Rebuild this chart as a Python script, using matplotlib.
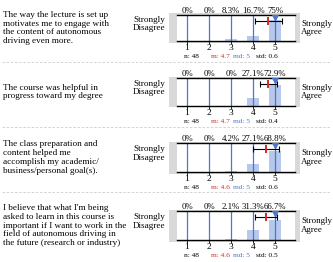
import numpy as np
import matplotlib
matplotlib.use("Agg")
import matplotlib.pyplot as plt
from matplotlib.patches import Rectangle
from matplotlib.lines import Line2D

plt.rcParams['font.family'] = ['Liberation Serif', 'DejaVu Serif']

## survey data
questions = [
    "The way the lecture is set up\nmotivates me to engage with\nthe content of autonomous\ndriving even more.",
    "The course was helpful in\nprogress toward my degree",
    "The class preparation and\ncontent helped me\naccomplish my academic/\nbusiness/personal goal(s).",
    "I believe that what I'm being\nasked to learn in this course is\nimportant if I want to work in the\nfield of autonomous driving in\nthe future (research or industry)",
]
categories = [1, 2, 3, 4, 5]
pct_q1 = [0, 0, 8.3, 16.7, 75]
pct_q2 = [0, 0, 0, 27.1, 72.9]
pct_q3 = [0, 0, 4.2, 27.1, 68.8]
pct_q4 = [0, 0, 2.1, 31.3, 66.7]
percents = [pct_q1, pct_q2, pct_q3, pct_q4]
pct_labels = [
    ["0%", "0%", "8.3%", "16.7%", "75%"],
    ["0%", "0%", "0%", "27.1%", "72.9%"],
    ["0%", "0%", "4.2%", "27.1%", "68.8%"],
    ["0%", "0%", "2.1%", "31.3%", "66.7%"],
]
n_resp = [48, 48, 48, 48]
means = [4.7, 4.7, 4.6, 4.6]
medians = [5, 5, 5, 5]
stds = [0.6, 0.4, 0.6, 0.5]

W, H = 333, 262
blue = '#4a78d0'
red = '#d62728'

fig = plt.figure(figsize=(W / 100, H / 100), dpi=100)

def fx(x):
    return x / W

def fy(y):
    return 1 - y / H

# pixel layout of each row (top / bottom of the plot area)
row_top = [15, 78, 143, 211]
row_bot = [41, 106, 172, 240]
ax_left, ax_right = 177, 295
sep_y = [62, 127, 192]
ymax = 0.95

for i in range(4):
    t, b = row_top[i], row_bot[i]
    mid = (t + b) / 2
    # gray frame
    fig.patches.append(Rectangle((fx(169), fy(b + 1.5)), fx(300) - fx(169), fy(t - 1.5) - fy(b + 1.5),
                                 transform=fig.transFigure, facecolor='#d9d9d9', edgecolor='none', zorder=0))
    ax = fig.add_axes([fx(ax_left), fy(b), fx(ax_right) - fx(ax_left), fy(t) - fy(b)])
    ax.set_zorder(1)
    ax.set_facecolor('white')
    ax.set_xlim(0.545, 5.91)
    ax.set_ylim(0, ymax)
    for c in categories:
        ax.axvline(c, color=blue, lw=0.9, zorder=2)
    ax.bar(categories, np.array(percents[i]) / 100, width=0.58, color=blue, alpha=0.4,
           edgecolor='none', zorder=1)
    ax.errorbar(means[i], 0.74, xerr=stds[i], color='black', lw=0.8, capsize=2, capthick=0.8, zorder=3)
    ax.plot(means[i], 0.74, marker='|', color=red, ms=6, mew=1.4, zorder=4)
    ax.plot(medians[i], 0.87, marker='v', color=blue, ms=3.8, zorder=4)
    ax.spines['left'].set_visible(False)
    ax.spines['right'].set_visible(False)
    ax.spines['top'].set_linewidth(1.0)
    ax.spines['bottom'].set_linewidth(1.0)
    ax.set_yticks([])
    ax.set_xticks(categories)
    ax.tick_params(axis='x', length=2, width=0.6, pad=0.3, labelsize=6.8)
    for c, lab in zip(categories, pct_labels[i]):
        ax.text(c, 1.0, lab, transform=ax.get_xaxis_transform(), ha='center', va='bottom',
                fontsize=6.3, clip_on=False)
    # second text line below the ticks
    sy = fy(b + 15.5)
    fig.text(fx(184), sy, "n: %d" % n_resp[i], fontsize=5.3, va='center', ha='left')
    fig.text(fx(211), sy, "m: %.1f" % means[i], fontsize=5.3, va='center', ha='left', color=red)
    fig.text(fx(233), sy, "md: %d" % medians[i], fontsize=5.3, va='center', ha='left', color=blue)
    fig.text(fx(256), sy, "std: %.1f" % stds[i], fontsize=5.3, va='center', ha='left')
    # labels
    fig.text(fx(3), fy(mid), questions[i], fontsize=6.6, va='center', ha='left', linespacing=1.15)
    fig.text(fx(149.5), fy(mid - 4), "Strongly\nDisagree", fontsize=6.6, va='center', ha='center',
             linespacing=1.15)
    fig.text(fx(301), fy(mid), "Strongly\nAgree", fontsize=6.4, va='center', ha='left', linespacing=1.15)

for y in sep_y:
    fig.lines.append(Line2D([fx(2), fx(331)], [fy(y), fy(y)], transform=fig.transFigure,
                            color='#cccccc', lw=0.6, ls=(0, (3, 2))))

fig.savefig('out.png', dpi=100)
